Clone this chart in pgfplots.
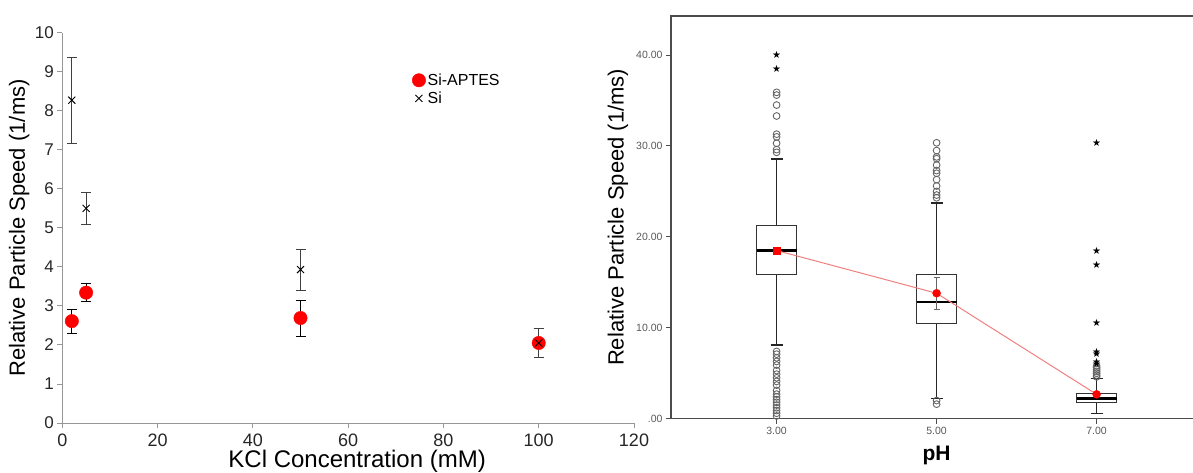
\documentclass[border=0pt]{standalone}
\usepackage{pgfplots}
\pgfplotsset{compat=1.18}
\usepgfplotslibrary{statistics}
\usepackage{fontspec}
\setmainfont{Liberation Sans}
\newfontfamily\symfont{DejaVu Sans}
\definecolor{meanline}{RGB}{240,128,128}
\definecolor{axgray}{RGB}{150,150,150}
\begin{document}
\begin{tikzpicture}[x=1pt,y=1pt]
\useasboundingbox (0,0) rectangle (1193,473);
% ---------------- left panel ----------------
\begin{axis}[
  at={(62.3pt,50pt)}, anchor=south west, scale only axis,
  width=571.7pt, height=390.3pt,
  xmin=0, xmax=120, ymin=0, ymax=10,
  axis x line=bottom, axis y line=left,
  axis line style={axgray, -, line width=0.9pt},
  xtick={0,20,...,120}, ytick={0,1,...,10},
  tick align=outside, major tick length=5pt,
  tick style={axgray, line width=0.9pt},
  /pgf/number format/assume math mode=true,
  xticklabel style={font=\fontsize{18}{20}\selectfont, text=black!85, yshift=-2pt},
  yticklabel style={font=\fontsize{17}{20}\selectfont, text=black!85},
  xlabel={KCl Concentration (mM)},
  ylabel={Relative Particle Speed (1/ms)},
  every axis x label/.style={at={([xshift=9pt,yshift=-45pt]rel axis cs:0.5,0)}, anchor=base, font=\fontsize{24}{26}\selectfont},
  every axis y label/.style={at={([xshift=-43pt]rel axis cs:0,0.5)}, anchor=center, rotate=90, font=\fontsize{22}{24}\selectfont},
  legend style={draw=none, fill=none, at={(axis cs:73.2,9.03)}, anchor=north west,
    font=\fontsize{16}{18}\selectfont, row sep=1pt, inner sep=1pt},
  legend cell align=left,
  legend image code/.code={\draw[#1] plot coordinates {(4pt,0pt)};},
]
\addplot[only marks, mark=*, mark size=6.7pt, red, mark options={fill=red, draw=red},
  error bars/.cd, y dir=both, y explicit, error mark=|,
  error bar style={black, line width=0.8pt},
  error mark options={black, mark size=5pt, line width=0.8pt}]
  coordinates {(2,2.61) +- (0,0.31) (5,3.34) +- (0,0.23) (50,2.69) +- (0,0.46) (100,2.05) +- (0,0.38)};
\addplot[only marks, mark=x, mark size=5pt, black, mark options={line width=0.9pt},
  error bars/.cd, y dir=both, y explicit, error mark=|,
  error bar style={black!75, line width=0.8pt},
  error mark options={black!75, mark size=5pt, line width=0.8pt}]
  coordinates {(2,8.27) +- (0,1.1) (5,5.5) +- (0,0.41) (50,3.93) +- (0,0.53) (100,2.05) +- (0,0.38)};
\legend{Si-APTES,Si}
\end{axis}
% ---------------- right panel ----------------
\begin{axis}[
  at={(671pt,54.3pt)}, anchor=south west, scale only axis,
  width=531.2pt, height=402.7pt,
  xmin=1.68, xmax=8.32, ymin=0, ymax=44.3,
  axis line style={black!70, line width=1.3pt},
  xtick={3,5,7}, xticklabels={3.00,5.00,7.00},
  ytick={0,10,20,30,40}, yticklabels={.00,10.00,20.00,30.00,40.00},
  tick align=outside, xtick pos=bottom, ytick pos=left, major tick length=5pt,
  tick style={black!70, line width=1pt},
  ticklabel style={font=\fontsize{10.5}{12}\selectfont, text=black!65},
  xlabel={\textbf{pH}},
  ylabel={Relative Particle Speed (1/ms)},
  every axis x label/.style={at={([yshift=-42pt]axis cs:5,0)}, anchor=base, font=\fontsize{21}{24}\selectfont},
  every axis y label/.style={at={([xshift=-53pt]rel axis cs:0,0.5)}, anchor=center, rotate=90, font=\fontsize{22}{24}\selectfont},
  boxplot/draw direction=y,
  boxplot/every median/.style={line width=2.4pt, black},
  boxplot/every whisker/.style={line width=1.6pt, black!85},
  boxplot/every box/.style={line width=1pt, black!80, fill=white},
]
\addplot[boxplot prepared={draw position=3, lower whisker=8.1, lower quartile=15.87,
  median=18.5, upper quartile=21.3, upper whisker=28.55, box extend=0.5, whisker extend=0.15}]
  coordinates {};
\addplot[boxplot prepared={draw position=5, lower whisker=2.24, lower quartile=10.42,
  median=12.87, upper quartile=15.88, upper whisker=23.76, box extend=0.5, whisker extend=0.15}]
  coordinates {};
\addplot[boxplot prepared={draw position=7, lower whisker=0.59, lower quartile=1.76,
  median=2.2, upper quartile=2.79, upper whisker=4.44, box extend=0.5, whisker extend=0.15}]
  coordinates {};
% outliers (circles)
\addplot[only marks, mark=o, mark size=3.4pt, black!60, mark options={line width=0.9pt}] coordinates {
  (3,29.3) (3,29.6) (3,30.3) (3,31.0) (3,31.3) (3,33.3) (3,34.5) (3,35.6) (3,35.9)
  (3,0.3) (3,0.6) (3,0.9) (3,1.2) (3,1.5) (3,1.8) (3,2.1) (3,2.4) (3,2.7) (3,3.1)
  (3,3.7) (3,4.1) (3,4.5) (3,4.9) (3,5.3) (3,5.9) (3,6.3) (3,6.7) (3,7.1) (3,7.4)
  (5,24.3) (5,24.6) (5,25.0) (5,25.6) (5,26.3) (5,27.0) (5,27.3) (5,27.9) (5,28.6)
  (5,28.8) (5,29.5) (5,30.35) (5,1.6) (5,2.0)
  (7,4.6) (7,4.8) (7,5.0) (7,5.2) (7,5.4) (7,5.6) (7,5.8)
};
% extreme outliers (stars)
\addplot[only marks, mark=text, text mark={\fontsize{10}{10}\selectfont\symfont\char"2605}, black!85] coordinates {
  (3,38.45) (3,40.0)
  (7,6.0) (7,6.3) (7,7.1) (7,7.3) (7,10.5) (7,16.95) (7,18.5) (7,30.35)
};
% means
\addplot[meanline, line width=1pt, mark=none] coordinates {(3,18.5) (5,13.8) (7,2.68)};
\addplot[only marks, mark=none, error bars/.cd, y dir=both, y explicit,
  error bar style={black!60, line width=0.7pt},
  error mark options={black!60, mark size=3pt, line width=0.7pt}, error mark=|]
  coordinates {(5,13.8) +- (0,1.75)};
\addplot[only marks, mark=*, mark size=4pt, red, mark options={fill=red, draw=red}] coordinates {(5,13.8) (7,2.68)};
\addplot[only marks, mark=square*, mark size=3.6pt, red, mark options={fill=red, draw=red}] coordinates {(3,18.5)};
\end{axis}
\end{tikzpicture}
\end{document}
